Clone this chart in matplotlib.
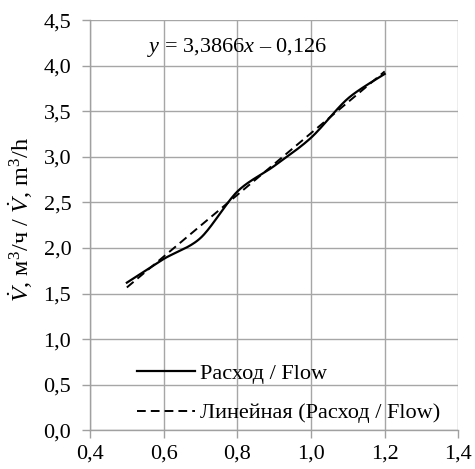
import numpy as np
import matplotlib
matplotlib.use("Agg")
import matplotlib.pyplot as plt

plt.rcParams['font.family'] = ['Liberation Serif', 'DejaVu Serif']
plt.rcParams['mathtext.fontset'] = 'custom'
plt.rcParams['mathtext.rm'] = 'Liberation Serif'
plt.rcParams['mathtext.it'] = 'Liberation Serif:italic'

# Data
flow_x = [0.5, 0.6, 0.7, 0.8, 0.9, 1.0, 1.1, 1.2]
flow_y = [1.62, 1.88, 2.11, 2.62, 2.90, 3.21, 3.64, 3.91]
trend_slope = 3.3866
trend_intercept = -0.126
x_ticks = [0.4, 0.6, 0.8, 1.0, 1.2, 1.4]
y_ticks = [0.0, 0.5, 1.0, 1.5, 2.0, 2.5, 3.0, 3.5, 4.0, 4.5]
series_label = "Расход / Flow"
trend_label = "Линейная (Расход / Flow)"

FS = 16


def smooth(xs, ys, n=30, tension=0.45):
    """Cardinal-spline smoothing (like Excel smoothed line)."""
    p = np.column_stack([xs, ys]).astype(float)
    p = np.vstack([p[0], p, p[-1]])
    out = []
    t = np.linspace(0, 1, n, endpoint=False)[:, None]
    for i in range(1, len(p) - 2):
        p0, p1, p2, p3 = p[i - 1], p[i], p[i + 1], p[i + 2]
        m1 = tension * (p2 - p0)
        m2 = tension * (p3 - p1)
        h00 = 2 * t ** 3 - 3 * t ** 2 + 1
        h10 = t ** 3 - 2 * t ** 2 + t
        h01 = -2 * t ** 3 + 3 * t ** 2
        h11 = t ** 3 - t ** 2
        out.append(h00 * p1 + h10 * m1 + h01 * p2 + h11 * m2)
    out.append(p[-2][None, :])
    out = np.vstack(out)
    return out[:, 0], out[:, 1]


fig = plt.figure(figsize=(4.75, 4.69), dpi=100)
ax = fig.add_axes([0.1895, 0.0825, 0.7755, 0.8745])

sx, sy = smooth(flow_x, flow_y)
ax.plot(sx, sy, color='black', lw=1.6, label=series_label, zorder=3)
tx = np.array([flow_x[0], flow_x[-1]])
ax.plot(tx, trend_slope * tx + trend_intercept, color='black', lw=1.4,
        linestyle=(0, (4.5, 2.6)), label=trend_label, zorder=3)

ax.set_xlim(0.4, 1.4)
ax.set_ylim(0.0, 4.5)
ax.set_xticks(x_ticks)
ax.set_yticks(y_ticks)
ax.set_xticklabels([f"{v:.1f}".replace('.', ',') for v in x_ticks])
ax.set_yticklabels([f"{v:.1f}".replace('.', ',') for v in y_ticks])
ax.tick_params(labelsize=FS, length=5.5, width=1, color='#A0A0A0')
ax.tick_params(axis='y', pad=8)
ax.tick_params(axis='x', pad=5)
ax.grid(True, color='#A6A6A6', lw=1)
ax.set_axisbelow(True)
for s in ['top', 'right']:
    ax.spines[s].set_visible(False)
for s in ['left', 'bottom']:
    ax.spines[s].set_color('#A0A0A0')
    ax.spines[s].set_linewidth(1)

ax.set_ylabel(r"$\dot{V}$, м$^3$/ч / $\dot{V}$, m$^3$/h", fontsize=17.5)
ax.yaxis.set_label_coords(-0.148, 0.515)

eq = r"$y$ = " + f"{trend_slope:.4f}".replace('.', ',') + r"$x$ – " + f"{abs(trend_intercept):.3f}".replace('.', ',')
ax.text(0.8, 4.2, eq, ha='center', va='center', fontsize=FS)

leg = fig.legend(loc='upper left', bbox_to_anchor=(0.288, 0.225), frameon=False,
                 fontsize=FS, handlelength=2.6, handletextpad=0.25,
                 labelspacing=0.85, borderpad=0, borderaxespad=0)

fig.savefig("out.png", dpi=100)
